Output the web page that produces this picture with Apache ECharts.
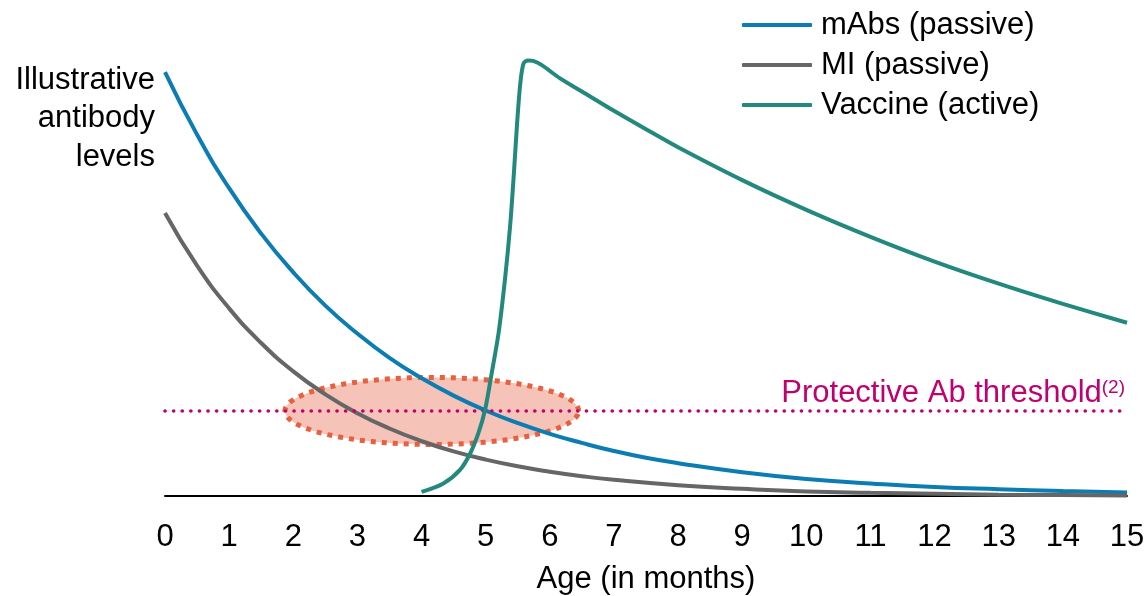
<!DOCTYPE html>
<html>
<head>
<meta charset="utf-8">
<script src="https://cdn.jsdelivr.net/npm/echarts@6/dist/echarts.min.js"></script>
<style>
html,body{margin:0;padding:0;background:#fff;}
#chart{width:1148px;height:596px;}
</style>
</head>
<body>
<div id="chart"></div>
<script>
// ---- Data ----
var xTicks = [0,1,2,3,4,5,6,7,8,9,10,11,12,13,14,15];
var seriesNames = ['mAbs (passive)', 'MI (passive)', 'Vaccine (active)'];

var mAbs = [[0,94.2],[0.5,80.3],[1,68.4],[1.5,58.3],[2,49.7],[2.5,42.3],[3,36.1],[3.5,30.7],[4,26.2],[4.5,22.3],[5,19.0],[5.5,16.2],[6,13.8],[6.5,11.8],[7,10.0],[7.5,8.5],[8,7.3],[9,5.3],[10,3.8],[11,2.8],[12,2.0],[13,1.5],[14,1.1],[15,0.8]];

var mi = [[0,62.9],[0.5,51.2],[1,41.7],[1.5,34.0],[2,27.7],[2.5,22.6],[3,18.4],[3.5,15.0],[4,12.2],[4.5,9.9],[5,8.1],[5.5,6.6],[6,5.4],[6.5,4.4],[7,3.6],[8,2.4],[9,1.6],[10,1.0],[11,0.7],[12,0.5],[13,0.3],[14,0.2],[15,0.1]];

var vaccine = [[4.0,0.9],[4.34,2.8],[4.6,5.8],[4.76,9.5],[4.885,13.9],[4.99,19.1],[5.094,27.3],[5.2,36.1],[5.3,48],[5.38,59.8],[5.44,71.7],[5.49,82.8],[5.54,91.7],[5.59,96.1],[5.66,96.8],[5.74,96.7],[5.87,95.8],[6.16,92.8],[6.5,89.9],[7,85.6],[7.5,81.5],[8,77.5],[9,70.2],[10,63.6],[11,57.6],[12,52.1],[13,47.2],[14,42.7],[15,38.5]];

var thresholdValue = 18.9;
var thresholdLabel = 'Protective Ab threshold';
var thresholdSup = '(2)';
var zoneCenter = [4.16, 18.9];   // overlap zone (ellipse) centre: month, level
var zoneRadius = [2.29, 7.45];   // half-width in months, half-height in level units

var yTitle = 'Illustrative\nantibody\nlevels';
var xTitle = 'Age (in months)';

var colors = ['#0B7DB3', '#666666', '#23887D'];
var FONT = '"Liberation Sans", Arial, sans-serif';

var chart = echarts.init(document.getElementById('chart'));

var option = {
  animation: false,
  backgroundColor: '#ffffff',
  textStyle: { fontFamily: FONT },
  grid: { left: 165, right: 21, top: 46, bottom: 100, outerBoundsMode: 'none', containLabel: false },
  legend: {
    orient: 'vertical',
    left: 742,
    top: 5,
    padding: 0,
    itemGap: 0,
    itemWidth: 70,
    itemHeight: 4,
    icon: 'roundRect',
    data: seriesNames,
    textStyle: { fontSize: 31, color: '#000', lineHeight: 40, padding: [0,0,0,4], fontFamily: FONT }
  },
  graphic: [{
    type: 'text',
    right: 993,
    top: 61,
    style: {
      text: yTitle,
      font: '31px ' + FONT,
      fill: '#000',
      textAlign: 'right',
      align: 'right',
      lineHeight: 38.5
    }
  }],
  xAxis: {
    type: 'value',
    min: 0, max: 15, interval: 1,
    name: xTitle,
    nameLocation: 'middle',
    nameGap: 68,
    nameTextStyle: { fontSize: 31, color: '#000', fontFamily: FONT },
    axisLine: { show: true, lineStyle: { color: '#000', width: 2 } },
    axisTick: { show: false },
    splitLine: { show: false },
    axisLabel: {
      fontSize: 31, color: '#000', margin: 26, fontFamily: FONT,
      formatter: function (v) { return xTicks.indexOf(v) >= 0 ? String(v) : ''; }
    }
  },
  yAxis: {
    type: 'value',
    min: 0, max: 100,
    show: false,
    splitLine: { show: false }
  },
  series: [
    {
      name: 'zone',
      type: 'custom',
      z: 1,
      silent: true,
      data: [[zoneCenter[0], zoneCenter[1], zoneRadius[0], zoneRadius[1]]],
      renderItem: function (params, api) {
        var cx = api.value(0), cy = api.value(1), rx = api.value(2), ry = api.value(3);
        var pts = [];
        var n = 120;
        for (var i = 0; i < n; i++) {
          var t = i / n * Math.PI * 2;
          pts.push(api.coord([cx + rx * Math.cos(t), cy + ry * Math.sin(t)]));
        }
        return {
          type: 'polygon',
          shape: { points: pts },
          style: { fill: '#F5C3B8', stroke: '#E8603E', lineWidth: 5, lineDash: [5, 6] }
        };
      }
    },
    {
      name: 'threshold',
      type: 'line',
      data: [],
      z: 3,
      markLine: {
        silent: true,
        symbol: ['none', 'none'],
        lineStyle: { color: '#C00070', width: 3.6, type: [0.1, 8.5], cap: 'round' },
        label: {
          show: true,
          position: 'insideEndTop',
          distance: [2, 1],
          formatter: '{a|' + thresholdLabel + '}{s|' + thresholdSup + '}',
          rich: {
            a: { fontSize: 31, color: '#C00070', lineHeight: 32, fontFamily: FONT },
            s: { fontSize: 19, color: '#C00070', lineHeight: 19, verticalAlign: 'top', fontFamily: FONT }
          }
        },
        data: [{ yAxis: thresholdValue }]
      }
    },
    {
      name: seriesNames[0], type: 'line', data: mAbs, showSymbol: false, smooth: 0.5,
      z: 4, lineStyle: { color: colors[0], width: 4 }, itemStyle: { color: colors[0] }
    },
    {
      name: seriesNames[1], type: 'line', data: mi, showSymbol: false, smooth: 0.5,
      z: 4, lineStyle: { color: colors[1], width: 4 }, itemStyle: { color: colors[1] }
    },
    {
      name: seriesNames[2], type: 'line', data: vaccine, showSymbol: false, smooth: 0.3,
      z: 5, lineStyle: { color: colors[2], width: 4 }, itemStyle: { color: colors[2] }
    }
  ]
};
chart.setOption(option);
</script>
</body>
</html>
